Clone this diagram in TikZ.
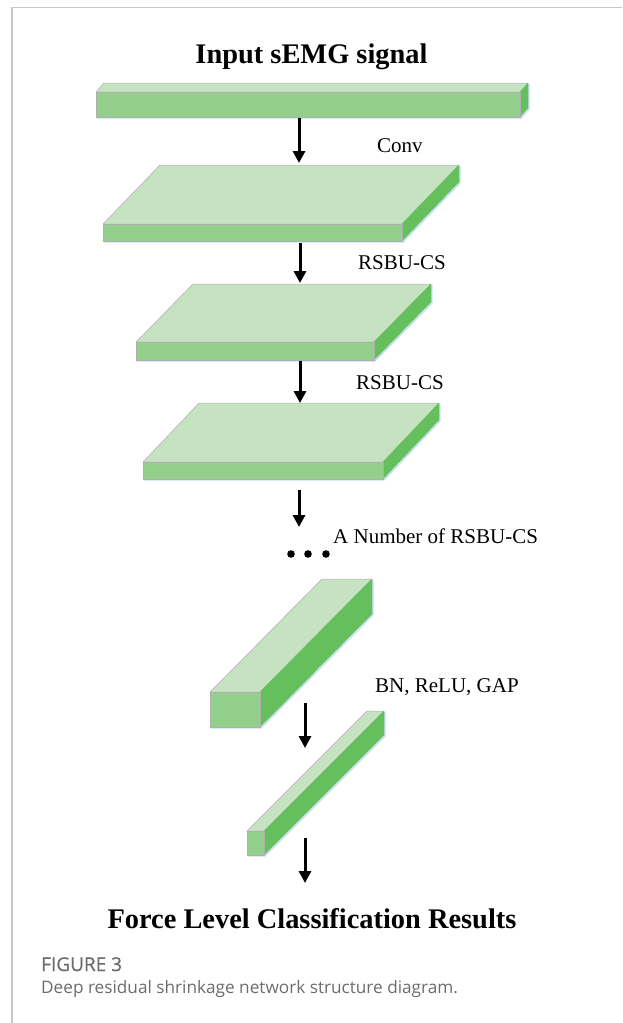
\documentclass[tikz,border=0pt]{standalone}
\usepackage{fontspec}
\setmainfont{Liberation Serif}
\newfontfamily\capfont{Open Sans}
\newfontfamily\capfontsemi{Open Sans}[FakeBold=0.7]
\usetikzlibrary{arrows.meta}

\definecolor{topgreen}{RGB}{197,227,192}
\definecolor{frontgreen}{RGB}{146,208,140}
\definecolor{sidegreen}{RGB}{102,191,93}
\definecolor{edgegray}{RGB}{175,175,175}
\definecolor{glow}{RGB}{196,222,242}
\definecolor{framegray}{RGB}{200,200,200}
\definecolor{capgray}{RGB}{108,108,108}

% #1 name, #2 left x, #3 right x, #4 top y of front face, #5 bottom y, #6 depth dx, #7 depth dy
\newcommand\layerblock[7]{%
  \draw[glow, line width=1.6pt, line join=round, shift={(0.9,0.9)}]
    (#2,#5) -- (#3,#5) -- (#3+#6,#5-#7) -- (#3+#6,#4-#7);
  \filldraw[fill=topgreen, draw=edgegray, line width=0.5pt, line join=round]
    (#2,#4) -- (#2+#6,#4-#7) -- (#3+#6,#4-#7) -- (#3,#4) -- cycle;
  \filldraw[fill=sidegreen, draw=sidegreen, line width=0.3pt, line join=round]
    (#3,#4) -- (#3+#6,#4-#7) -- (#3+#6,#5-#7) -- (#3,#5) -- cycle;
  \filldraw[fill=frontgreen, draw=edgegray, line width=0.5pt]
    (#2,#4) rectangle (#3,#5);
  \coordinate (#1) at ({(#2+#3)/2},{(#4+#5)/2});
}

\begin{document}
\begin{tikzpicture}[x=1pt,y=-1pt,
  flow/.style={-{Triangle[width=12pt,length=12pt]}, line width=3pt},
  heading/.style={font=\fontsize{28.4}{30}\selectfont\bfseries, inner sep=0pt, anchor=base},
  steplabel/.style={font=\fontsize{21}{23}\selectfont, inner sep=0pt, anchor=base west},
  capline/.style={font=\capfont\fontsize{17.2}{19}\selectfont, text=capgray, inner sep=0pt, anchor=base west}]
\useasboundingbox (0,0) rectangle (622,1023);

% frame lines
\draw[framegray, line width=1.5pt] (12,1023) -- (12,7.5) -- (622,7.5);

% titles
\node[heading] (input) at (311.5,63) {Input sEMG signal};
\node[heading] (result) at (312,928) {Force Level Classification Results};

% layer blocks
\layerblock{b1}{96}{520}{92}{117}{8}{9}
\layerblock{b2}{103}{402}{224}{241}{57}{59}
\layerblock{b3}{136}{374}{342}{360}{57}{58}
\layerblock{b4}{143}{383}{462}{479}{56}{59}
\layerblock{b5}{210}{260}{692}{727}{112}{113}
\layerblock{b6}{247}{264}{831}{855}{120}{120}

% arrow end points
\coordinate (a1s) at (299,118);  \coordinate (a1e) at (299,163);
\coordinate (a2s) at (300,243);  \coordinate (a2e) at (300,283);
\coordinate (a3s) at (300,361);  \coordinate (a3e) at (300,403);
\coordinate (a4s) at (299,490);  \coordinate (a4e) at (299,527);
\coordinate (a5s) at (305,703);  \coordinate (a5e) at (305,748);
\coordinate (a6s) at (305,838);  \coordinate (a6e) at (305,883);

\draw[flow] (a1s) -- (a1e);
\draw[flow] (a2s) -- (a2e);
\draw[flow] (a3s) -- (a3e);
\draw[flow] (a4s) -- (a4e);
\draw[flow] (a5s) -- (a5e);
\draw[flow] (a6s) -- (a6e);

% labels
\node[steplabel] (lconv) at (377,152) {Conv};
\node[steplabel] (lrs1) at (358,269) {RSBU-CS};
\node[steplabel] (lrs2) at (356,389) {RSBU-CS};
\node[steplabel] (lmany) at (333,543) {A Number of RSBU-CS};
\node[steplabel] (lgap) at (375,692) {BN, ReLU, GAP};

% ellipsis
\fill (291,554) circle (3.8pt);
\fill (308,554) circle (3.8pt);
\fill (326,554) circle (3.8pt);

% caption
\node[capline, font=\capfontsemi\fontsize{19}{21}\selectfont] (figno) at (41,971) {FIGURE 3};
\node[capline] (figcap) at (41,993) {Deep residual shrinkage network structure diagram.};
\end{tikzpicture}
\end{document}
